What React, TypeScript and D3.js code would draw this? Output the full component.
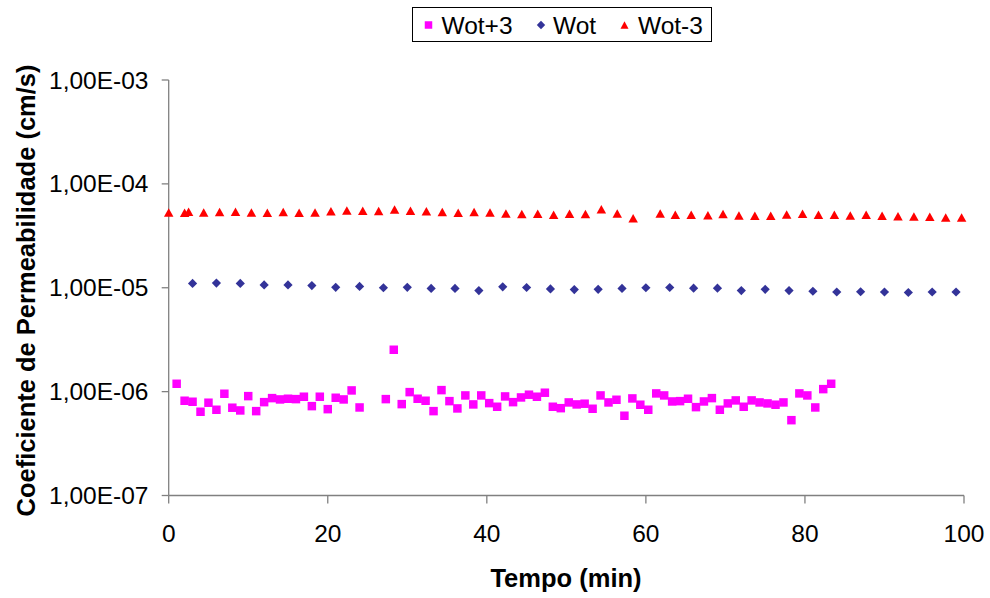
import React from "react";
import * as d3 from "d3";

// ---- Data ----
const wotPlus3Time = [
  1, 2, 3, 4, 5, 6, 7, 8, 9, 10, 11, 12, 13, 14, 15, 16, 17, 18, 19, 20, 21, 22, 23, 24,
  27.3, 28.3, 29.3, 30.3, 31.3, 32.3, 33.3, 34.3, 35.3, 36.3, 37.3, 38.3, 39.3, 40.3, 41.3,
  42.3, 43.3, 44.3, 45.3, 46.3, 47.3, 48.3, 49.3, 50.3, 51.3, 52.3, 53.3, 54.3, 55.3, 56.3,
  57.3, 58.3, 59.3, 60.3, 61.3, 62.3, 63.3, 64.3, 65.3, 66.3, 67.3, 68.3, 69.3, 70.3, 71.3,
  72.3, 73.3, 74.3, 75.3, 76.3, 77.3, 78.3, 79.3, 80.3, 81.3, 82.3, 83.3,
];
const wotPlus3K = [
  1.19e-6, 0.817e-6, 0.799e-6, 0.64e-6, 0.782e-6, 0.669e-6, 0.954e-6, 0.7e-6, 0.659e-6, 0.905e-6,
  0.649e-6, 0.792e-6, 0.866e-6, 0.841e-6, 0.854e-6, 0.847e-6, 0.893e-6, 0.725e-6, 0.893e-6, 0.678e-6,
  0.873e-6, 0.841e-6, 1.027e-6, 0.704e-6,
  0.847e-6, 2.53e-6, 0.758e-6, 0.989e-6, 0.854e-6, 0.817e-6, 0.649e-6, 1.034e-6, 0.81e-6, 0.689e-6,
  0.919e-6, 0.753e-6, 0.919e-6, 0.775e-6, 0.715e-6, 0.899e-6, 0.792e-6, 0.879e-6, 0.934e-6, 0.893e-6,
  0.976e-6, 0.715e-6, 0.693e-6, 0.787e-6, 0.753e-6, 0.765e-6, 0.684e-6, 0.919e-6, 0.787e-6, 0.835e-6,
  0.586e-6, 0.86e-6, 0.748e-6, 0.669e-6, 0.961e-6, 0.919e-6, 0.804e-6, 0.81e-6, 0.854e-6, 0.709e-6,
  0.804e-6, 0.866e-6, 0.669e-6, 0.77e-6, 0.823e-6, 0.715e-6, 0.823e-6, 0.787e-6, 0.77e-6, 0.748e-6,
  0.787e-6, 0.531e-6, 0.961e-6, 0.919e-6, 0.704e-6, 1.057e-6, 1.19e-6,
];

const wotTime = [
  3, 6, 9, 12, 15, 18, 21, 24, 27, 30, 33, 36, 39, 42, 45, 48, 51, 54, 57, 60, 63, 66, 69, 72,
  75, 78, 81, 84, 87, 90, 93, 96, 99,
];
const wotK = [
  1.1e-5, 1.11e-5, 1.1e-5, 1.065e-5, 1.065e-5, 1.05e-5, 1.01e-5, 1.03e-5, 1.0e-5, 1.01e-5, 0.985e-5,
  0.985e-5, 0.94e-5, 1.02e-5, 1.005e-5, 0.975e-5, 0.96e-5, 0.966e-5, 0.985e-5, 1.0e-5, 1.005e-5,
  0.99e-5, 0.99e-5, 0.94e-5, 0.966e-5, 0.94e-5, 0.925e-5, 0.91e-5, 0.915e-5, 0.91e-5, 0.9e-5,
  0.91e-5, 0.91e-5,
];

const wotMinus3Time = [
  0, 2, 2.5, 4.4, 6.4, 8.4, 10.4, 12.4, 14.4, 16.4, 18.4, 20.4, 22.4, 24.4, 26.4, 28.4, 30.4, 32.4,
  34.4, 36.4, 38.4, 40.4, 42.4, 44.4, 46.4, 48.4, 50.4, 52.4, 54.4, 56.4, 58.4, 61.8, 63.7, 65.7,
  67.8, 69.7, 71.7, 73.7, 75.7, 77.7, 79.7, 81.7, 83.7, 85.7, 87.7, 89.7, 91.7, 93.7, 95.7, 97.7,
  99.7,
];
const wotMinus3K = [
  5.31e-5, 5.27e-5, 5.39e-5, 5.31e-5, 5.35e-5, 5.39e-5, 5.31e-5, 5.27e-5, 5.35e-5, 5.27e-5, 5.31e-5,
  5.44e-5, 5.55e-5, 5.51e-5, 5.47e-5, 5.67e-5, 5.51e-5, 5.44e-5, 5.35e-5, 5.27e-5, 5.35e-5, 5.31e-5,
  5.19e-5, 5.12e-5, 5.15e-5, 5.04e-5, 5.15e-5, 5.12e-5, 5.71e-5, 5.19e-5, 4.67e-5, 5.19e-5, 5.04e-5,
  5.04e-5, 5.0e-5, 5.12e-5, 4.96e-5, 4.93e-5, 4.93e-5, 5.08e-5, 5.15e-5, 5.04e-5, 5.04e-5, 4.96e-5,
  5.04e-5, 4.93e-5, 4.89e-5, 4.85e-5, 4.82e-5, 4.74e-5, 4.74e-5,
];

const xTicks = [0, 20, 40, 60, 80, 100];
const yTicks = [1e-7, 1e-6, 1e-5, 1e-4, 1e-3];
const yTickLabels = ["1,00E-07", "1,00E-06", "1,00E-05", "1,00E-04", "1,00E-03"];
const seriesNames = ["Wot+3", "Wot", "Wot-3"];
const seriesColors = ["#FF00FF", "#333399", "#FF0000"];

// ---- Layout ----
const W = 990;
const H = 598;
const FONT = "'Liberation Sans', Arial, sans-serif";
const axisColor = "#808080";

const x = d3.scaleLinear().domain([0, 100]).range([168.7, 964]);
const y = d3.scaleLog().domain([1e-7, 1e-3]).range([495.5, 80]);

const squarePath = (s: number) => `M${-s / 2},${-s / 2}h${s}v${s}h${-s}Z`;
const diamondPath = (r: number) => `M0,${-r}L${r},0L0,${r}L${-r},0Z`;
const trianglePath = (w: number, h: number) =>
  `M0,${-h / 2}L${w / 2},${h / 2}L${-w / 2},${h / 2}Z`;

const markers = [squarePath(8.5), diamondPath(4.6), trianglePath(9.5, 8.5)];
const legendMarkers = [squarePath(7.5), diamondPath(4.2), trianglePath(8, 7.5)];

const seriesData = [
  wotPlus3Time.map((t, i) => [t, wotPlus3K[i]]),
  wotTime.map((t, i) => [t, wotK[i]]),
  wotMinus3Time.map((t, i) => [t, wotMinus3K[i]]),
];

export default function App() {
  const [x0, x1] = x.range();
  const [yb, yt] = y.range();
  const legendItems = [
    { mx: 428.5, tx: 441.5 },
    { mx: 541, tx: 553 },
    { mx: 624.5, tx: 638 },
  ];
  return (
    <div style={{ position: "fixed", left: 0, top: 0 }}>
      <svg width={W} height={H} style={{ display: "block", background: "#fff" }}>
        <rect x={0} y={0} width={W} height={H} fill="#fff" />
        {/* y axis */}
        <line x1={x0} x2={x0} y1={yt} y2={yb} stroke={axisColor} strokeWidth={1.3} />
        {yTicks.map((v, i) => (
          <g key={"yt" + i}>
            <line x1={x0 - 7} x2={x0} y1={y(v)} y2={y(v)} stroke={axisColor} strokeWidth={1.3} />
            <text
              x={148.5}
              y={y(v)}
              dy="0.35em"
              textAnchor="end"
              fontFamily={FONT}
              fontSize={24.5}
              fill="#000"
            >
              {yTickLabels[i]}
            </text>
          </g>
        ))}
        {/* x axis */}
        <line x1={x0} x2={x1} y1={yb} y2={yb} stroke={axisColor} strokeWidth={1.3} />
        {xTicks.map((v) => (
          <g key={"xt" + v}>
            <line x1={x(v)} x2={x(v)} y1={yb} y2={yb + 8} stroke={axisColor} strokeWidth={1.3} />
            <text
              x={x(v)}
              y={542}
              textAnchor="middle"
              fontFamily={FONT}
              fontSize={24.5}
              fill="#000"
            >
              {v}
            </text>
          </g>
        ))}
        {/* axis titles */}
        <text
          x={566}
          y={587}
          textAnchor="middle"
          fontFamily={FONT}
          fontSize={25.5}
          fontWeight="bold"
          fill="#000"
        >
          Tempo (min)
        </text>
        <text
          transform={`translate(35,${(62 + 519) / 2}) rotate(-90)`}
          textAnchor="middle"
          fontFamily={FONT}
          fontSize={25.5}
          fontWeight="bold"
          fill="#000"
        >
          Coeficiente de Permeabilidade (cm/s)
        </text>
        {/* data */}
        {seriesData.map((data, si) => (
          <g key={"s" + si} fill={seriesColors[si]}>
            {data.map(([t, v], i) => (
              <path key={i} d={markers[si]} transform={`translate(${x(t)},${y(v)})`} />
            ))}
          </g>
        ))}
        {/* legend */}
        <rect x={412.5} y={7.5} width={299} height={34} fill="#fff" stroke="#000" strokeWidth={1} />
        {legendItems.map((it, i) => (
          <g key={"lg" + i}>
            <path d={legendMarkers[i]} transform={`translate(${it.mx},25)`} fill={seriesColors[i]} />
            <text x={it.tx} y={33.5} fontFamily={FONT} fontSize={24.5} fill="#000">
              {seriesNames[i]}
            </text>
          </g>
        ))}
      </svg>
    </div>
  );
}
